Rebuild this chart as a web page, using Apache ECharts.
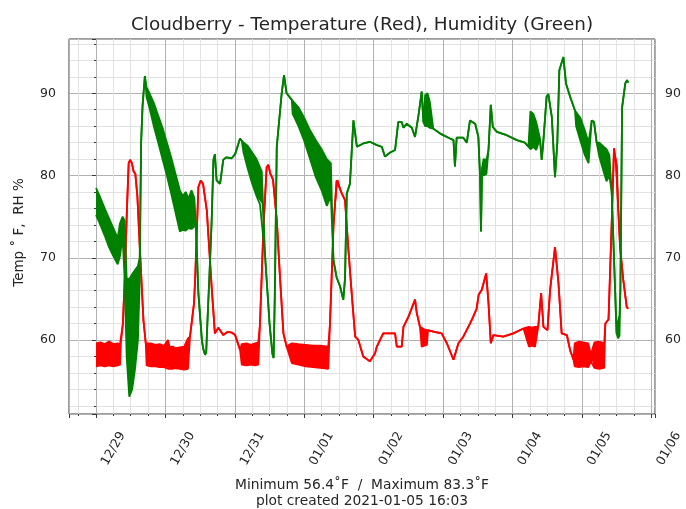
<!DOCTYPE html>
<html>
<head>
<meta charset="utf-8">
<script src="https://cdn.jsdelivr.net/npm/echarts@6/dist/echarts.min.js"></script>
<style>
html, body { margin: 0; padding: 0; background: #fff; }
#chart { width: 686px; height: 509px; }
</style>
</head>
<body>
<div id="chart"></div>
<script>
// readings: [hours since 12/29 00:00, value] or [hours, low, high] where the
// logger flickers fast enough to fill a band
var tempReadings = [
  [0, 56.8, 59.6], [1.5, 56.9, 59.7], [3, 56.8, 59.5], [4.5, 56.9, 59.8], [6, 56.8, 59.5], [7.5, 56.9, 59.6], [8.3, 57.0, 59.5],
  [8.6, 59.6], [9.3, 62], [10, 68], [10.7, 76], [11.3, 81.5], [11.8, 81.9], [12.4, 81.5], [13, 80.5], [13.6, 80.2],
  [14.3, 77.5], [15.2, 70.9], [16.4, 62.4], [17.2, 59.6],
  [17.5, 56.9, 59.8], [19, 56.8, 59.6], [20.5, 56.8, 59.4], [22, 56.7, 59.5], [23.5, 56.7, 59.3], [24.9, 56.5, 60],
  [25.5, 56.6, 59.1], [26.5, 56.5, 59.2], [27.5, 56.6, 59], [28, 56.4, 59.2], [29, 56.5, 59.1], [30.5, 56.4, 59.2], [31.8, 56.5, 60.2],
  [32.5, 60.4], [33.9, 64.5], [34.3, 67.6], [35.4, 78.6], [36.2, 79.4], [37, 79], [38.3, 75.8], [40, 66.4], [41.1, 60.8],
  [42.3, 61.5], [44, 60.6], [45.6, 61], [46.9, 60.9], [48.1, 60.6], [49.8, 58.8],
  [50.4, 57, 59.5], [52, 56.9, 59.6], [53.5, 57, 59.4], [55, 56.9, 59.6], [56.1, 57, 59.7],
  [56.7, 62], [57.9, 73.7], [59, 81], [59.6, 81.3], [60.2, 80.3], [61.2, 79.5], [62.5, 74.6], [63.6, 67.7], [64.8, 60.8], [65.9, 59.2],
  [67.7, 57.2, 59.6], [70, 57, 59.5], [72.5, 56.8, 59.4], [75, 56.7, 59.3], [77.5, 56.6, 59.3], [80.3, 56.5, 59.2],
  [80.9, 62], [82.1, 73.8], [83.2, 79.4], [83.8, 79.6], [85, 77.8], [86.1, 77], [87.2, 71.3], [88.4, 65.7], [89.6, 60.4],
  [90.7, 60], [92.4, 58], [94.7, 57.4], [96.5, 58.4], [97.1, 59.2], [99.3, 60.8], [101.7, 60.8], [103.4, 60.8], [104, 59.2],
  [105.7, 59.2], [106.3, 61.6], [108, 62.8], [110.3, 64.9], [110.9, 63.3], [112, 61.6],
  [112.6, 59.2, 61.4], [113.5, 59.3, 61.3], [114.4, 59.4, 61.2],
  [114.8, 61.2], [117, 61], [119.5, 60.8], [121.3, 59.6], [123.6, 57.6], [125.3, 59.6], [127, 60.4], [129.3, 62],
  [130.4, 62.8], [131.6, 63.8], [132.3, 65.5], [133.4, 66.1], [134.9, 68.1], [135.7, 64.5], [136.5, 59.6], [137.4, 60.6],
  [140.8, 60.4], [144.3, 60.8], [147.8, 61.4],
  [149.7, 59.2, 61.6], [150.7, 59.3, 61.5], [151.8, 59.2, 61.6],
  [152.9, 61.6], [153.9, 65.7], [154.7, 61.6], [156.1, 61.2], [157, 66.1], [158.7, 71.3], [159.9, 66.9], [161, 60.8],
  [162.8, 60.6], [163.9, 58.8], [165.1, 57.6],
  [165.5, 56.8, 59.6], [167, 56.7, 59.8], [168.5, 56.8, 59.7], [170.2, 56.7, 59.6], [171.1, 57.4, 58.2], [171.6, 57.4, 58.2],
  [172.3, 56.6, 59.7], [174, 56.5, 59.8], [175.7, 56.6, 59.6],
  [176.1, 62], [177.2, 62.5], [178.3, 74.2], [179.1, 83.3], [179.8, 81.5], [180.4, 81.3], [181.2, 71.3], [182.3, 67.3],
  [183.5, 64], [184, 63.8]
];

var humReadings = [
  [0, 75.2, 78.5], [1.5, 74, 77.3], [3, 72.7, 76], [4.5, 71.3, 74.8], [6, 70.2, 73.6], [7.5, 69.2, 72.4], [8.3, 70.2, 74.2],
  [9.2, 72.5, 75], [9.9, 67.5, 74.5], [10.6, 58, 67.5], [11.5, 53.1, 67.4], [12.5, 54, 68], [13.5, 56.5, 68.5],
  [14.5, 60, 69], [15.1, 67, 70],
  [15.6, 84], [16.1, 88.5], [16.9, 92.1],
  [17.5, 89.5, 90.7], [18.5, 88.2, 90], [20, 86, 88.8], [21.5, 84, 87.3], [23, 82, 85.8], [24.5, 80, 84], [26, 77.8, 82.2],
  [27.5, 75.5, 80.2], [29, 73.2, 78.2], [30, 73.4, 77.5], [31, 73.3, 78], [32, 73.6, 77.2], [33, 73.5, 78.2], [34, 73.8, 77.3],
  [34.5, 74.3], [35.4, 65.7], [36.6, 60], [37.1, 58.9], [37.7, 58.2], [38.1, 58.5], [38.5, 62], [39.2, 67.7], [40, 74.6],
  [40.6, 81.9], [41.1, 82.6], [41.7, 79.4], [42.9, 79], [44, 81.9], [45, 82.2], [46.9, 82.1], [48.1, 82.6], [49.8, 84.5], [50.4, 84.2],
  [51, 82.8, 84.3], [52.5, 80.8, 83.6], [54, 79, 82.8], [55.5, 77.5, 82], [56.7, 76.5, 81], [57.3, 76.6, 80.5],
  [58.5, 70], [60, 62], [61, 58.3], [61.4, 57.8], [61.8, 65], [62.5, 83.5], [64.2, 90], [65, 92.2], [65.9, 90], [67.7, 89.2],
  [68, 87.5, 89.2], [70, 86, 88.3], [72, 84.2, 87], [74, 82, 85.5], [76, 79.8, 84.3], [78, 78.2, 83.2], [79.8, 76.3, 82], [81.2, 77.5, 81.5],
  [82.1, 69.7], [83.2, 67.6], [84.4, 66.5], [85.5, 64.9], [86.1, 67.5], [86.7, 77.8], [87.8, 79], [89, 86.7], [90.2, 83.5],
  [92.4, 83.9], [94.7, 84.1], [97.1, 83.7], [98.8, 83.5], [99.9, 82.3], [101.7, 82.8], [103.4, 83.1], [104.5, 86.5],
  [105.7, 86.5], [106.3, 85.8], [107.4, 86.3], [109.2, 85.8], [110.3, 84.7], [111.5, 87.3], [112.6, 90.2], [113.2, 86.5],
  [113.8, 86, 89.8], [114.6, 86, 90], [115.4, 85.8, 89],
  [116.6, 85.7], [119, 85.1], [122.4, 84.5], [123.6, 84.3], [124.1, 81.1], [124.7, 84.6], [127, 84.6], [128.2, 84],
  [129.3, 86.7], [131.1, 86.3], [132.2, 84.7], [132.8, 79.8], [133.1, 73.2], [133.5, 81], [134, 80, 82], [135, 80.2, 81.9],
  [135.7, 83.1], [136.5, 88.6], [137.2, 85.9], [138.6, 85.3], [142, 84.9], [145.5, 84.3], [148.3, 84], [149.5, 83.5],
  [150.2, 83.2, 87.8], [151.2, 83.5, 87.5], [152.2, 83.1, 86.5],
  [153.5, 84.5], [154.1, 81.9], [154.7, 84.3], [155.8, 89.6], [156.4, 89.9], [157.6, 87.1], [158.7, 79.8], [159.5, 84],
  [160.2, 92.8], [161.6, 94.4], [162.5, 91.2], [163.9, 89.6], [165.6, 87.9],
  [166, 86, 88], [167.5, 84.2, 87], [169, 82.5, 85.5], [170.3, 81.5, 84],
  [171.4, 86.7], [172.2, 86.5], [173.1, 84],
  [174, 82.3, 84], [175.5, 80.5, 83.5], [176.5, 79.3, 83.2], [177.5, 80, 82.5],
  [178.3, 78], [180, 60.8], [180.5, 60.2, 62.3], [181, 60.5, 63], [181.3, 66], [181.9, 88.3], [183, 91.2], [183.6, 91.6], [184, 91.3]
];

var dayLabels = ['12/29', '12/30', '12/31', '01/01', '01/02', '01/03', '01/04', '01/05', '01/06'];
var yLabels = [60, 70, 80, 90];

// axis limits in days from 12/29 00:00 and in temp/RH units
var X_MIN = -0.389, X_MAX = 8.053;
var Y_MIN = 51.0, Y_MAX = 96.6;

var RED = '#ff0000';
var GREEN = '#008000';
var INK = '#262626';

// value column first so the stack runs on y, time goes to x through encode
function lowEdge(rows) {
  return rows.map(function (r) { return [r[1], r[0] / 24]; });
}
function bandHeight(rows) {
  return rows.map(function (r) { return [r.length > 2 ? r[2] - r[1] : 0, r[0] / 24]; });
}

function bandPair(rows, color, stackId) {
  var line = { color: color, width: 1.8 };
  return [{
    type: 'line', stack: stackId, data: lowEdge(rows), encode: { x: 1, y: 0 },
    symbol: 'none', lineStyle: line, silent: true
  }, {
    type: 'line', stack: stackId, data: bandHeight(rows), encode: { x: 1, y: 0 },
    symbol: 'none', lineStyle: line, areaStyle: { color: color, opacity: 1 }, silent: true
  }];
}

var chart = echarts.init(document.getElementById('chart'), null, { renderer: 'canvas' });

var option = {
  animation: false,
  backgroundColor: '#fff',
  textStyle: { fontFamily: 'DejaVu Sans' },
  title: {
    text: 'Cloudberry - Temperature (Red), Humidity (Green)',
    left: 131,
    top: 16,
    padding: 0,
    textStyle: { fontFamily: 'DejaVu Sans', fontSize: 18.4, fontWeight: 'normal', color: INK }
  },
  grid: {
    left: 69, right: 31, top: 39, bottom: 95,
    show: true, borderColor: '#3a3a3a', borderWidth: 1,
    outerBoundsMode: 'none'
  },
  xAxis: [{
    type: 'value',
    min: X_MIN, max: X_MAX, splitNumber: 8,
    axisLine: { show: false },
    axisTick: { show: true, length: 4, lineStyle: { color: '#3a3a3a' } },
    minorTick: { show: true, splitNumber: 4, length: 2, lineStyle: { color: '#3a3a3a' } },
    splitLine: { show: true, lineStyle: { color: '#b0b0b0', width: 1 } },
    minorSplitLine: { show: true, lineStyle: { color: '#e2e2e2', width: 1 } },
    axisLabel: {
      rotate: 60, align: 'center', padding: [0, 0, 0, 70], margin: 65,
      fontSize: 12.5, color: INK, fontFamily: 'DejaVu Sans',
      showMinLabel: false, showMaxLabel: false,
      formatter: function (v) {
        var i = Math.round(v);
        return Math.abs(v - i) < 1e-6 && dayLabels[i] ? dayLabels[i] : '';
      }
    },
    name: 'Minimum 56.4\u02daF  /  Maximum 83.3\u02daF\nplot created 2021-01-05 16:03',
    nameLocation: 'middle',
    nameGap: 64,
    nameMoveOverlap: false,
    nameTextStyle: { fontSize: 13.8, lineHeight: 15.5, color: INK, fontFamily: 'DejaVu Sans', verticalAlign: 'top' }
  }],
  yAxis: [{
    type: 'value', position: 'left',
    min: Y_MIN, max: Y_MAX, splitNumber: 5,
    axisLine: { show: false },
    axisTick: { show: true, length: 4, lineStyle: { color: '#3a3a3a' } },
    minorTick: { show: true, splitNumber: 5, length: 2, lineStyle: { color: '#3a3a3a' } },
    splitLine: { show: true, lineStyle: { color: '#b0b0b0', width: 1 } },
    minorSplitLine: { show: true, lineStyle: { color: '#e2e2e2', width: 1 } },
    axisLabel: {
      margin: 13, fontSize: 12.5, color: INK, fontFamily: 'DejaVu Sans',
      showMinLabel: false, showMaxLabel: false,
      formatter: function (v) { return yLabels.indexOf(v) >= 0 ? String(v) : ''; }
    },
    name: 'Temp \u02da F,  RH %',
    nameLocation: 'middle',
    nameGap: 43,
    nameTextStyle: { fontSize: 13.5, color: INK, fontFamily: 'DejaVu Sans', padding: [0, 12, 0, 0] }
  }, {
    type: 'value', position: 'right',
    min: Y_MIN, max: Y_MAX, splitNumber: 5,
    axisLine: { show: false },
    axisTick: { show: false },
    splitLine: { show: false },
    axisLabel: {
      margin: 10, fontSize: 12.5, color: INK, fontFamily: 'DejaVu Sans',
      showMinLabel: false, showMaxLabel: false,
      formatter: function (v) { return yLabels.indexOf(v) >= 0 ? String(v) : ''; }
    }
  }],
  series: bandPair(tempReadings, RED, 'temp').concat(bandPair(humReadings, GREEN, 'hum'))
};

chart.setOption(option);
</script>
</body>
</html>
